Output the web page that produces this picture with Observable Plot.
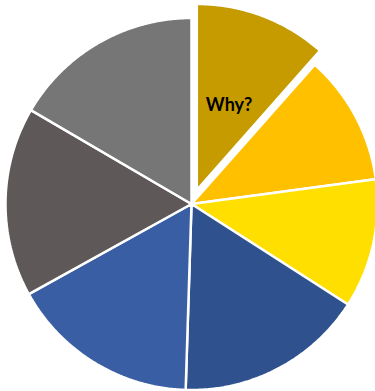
<!DOCTYPE html>
<html>
<head>
<meta charset="utf-8">
<script src="https://cdn.jsdelivr.net/npm/d3@7"></script>
<script src="https://cdn.jsdelivr.net/npm/@observablehq/plot@0.6"></script>
<style>
  html, body { margin: 0; padding: 0; background: #fff; }
  #chart { width: 375px; height: 391px; }
</style>
</head>
<body>
<div id="chart"></div>
<script>
// Slices clockwise from 12 o'clock (values read as share of the circle)
const sliceNames = ["Why?", "Slice 2", "Slice 3", "Slice 4", "Slice 5", "Slice 6", "Slice 7"];
const sliceLabels = ["Why?", "", "", "", "", "", ""];
const sliceValues = [41.5, 40.8, 40.4, 59.1, 59.2, 59.3, 59.7];
const sliceColors = ["#C59B00", "#FFC000", "#FFDF00", "#2F528F", "#3A5EA3", "#5E5858", "#767676"];
const sliceExplode = [15, 0, 0, 0, 0, 0, 0];

const R = 186;
const arcs = d3.pie().sort(null).value(d => d)(sliceValues);

const pts = [];
const labelPts = [];
arcs.forEach((a, i) => {
  const mid = (a.startAngle + a.endAngle) / 2;
  const ox = sliceExplode[i] * Math.sin(mid);
  const oy = sliceExplode[i] * Math.cos(mid);
  pts.push({i, x: ox, y: oy, color: sliceColors[i]});
  const n = Math.max(2, Math.ceil((a.endAngle - a.startAngle) / (Math.PI / 360)));
  for (let k = 0; k <= n; k++) {
    const t = a.startAngle + (a.endAngle - a.startAngle) * k / n;
    pts.push({i, x: ox + R * Math.sin(t), y: oy + R * Math.cos(t), color: sliceColors[i]});
  }
  pts.push({i, x: ox, y: oy, color: sliceColors[i]});
  if (sliceLabels[i]) {
    const lr = 0.49 * R;
    labelPts.push({label: sliceLabels[i], x: ox + lr * Math.sin(mid), y: oy + lr * Math.cos(mid)});
  }
});

const chart = Plot.plot({
  width: 375,
  height: 391,
  margin: 0,
  x: {domain: [-191, 184], axis: null},
  y: {domain: [-187.5, 203.5], axis: null},
  color: {type: "identity"},
  style: {background: "#fff"},
  marks: [
    Plot.line(pts, {x: "x", y: "y", z: "i", fill: "color", stroke: "white", strokeWidth: 2.5, strokeLinejoin: "miter", curve: "linear"}),
    Plot.text(labelPts, {x: "x", y: "y", text: "label", fontSize: 18, fontWeight: "bold", fontFamily: "Lato, 'Open Sans', sans-serif", fill: "#000"})
  ]
});
document.getElementById("chart").appendChild(chart);
</script>
</body>
</html>
